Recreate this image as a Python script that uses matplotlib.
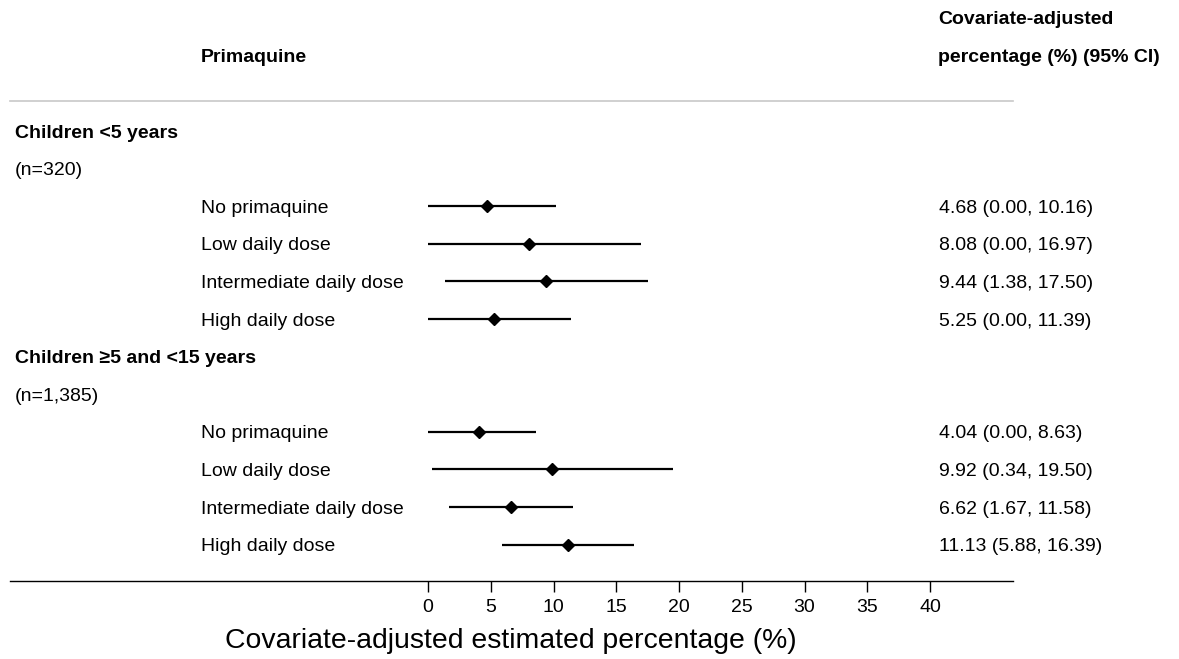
import matplotlib.pyplot as plt
from matplotlib.transforms import blended_transform_factory

plt.rcParams['font.family'] = ['Liberation Sans', 'DejaVu Sans']

# data
groups = ["Children <5 years", "Children \u22655 and <15 years"]
group_n = ["(n=320)", "(n=1,385)"]
doses = ["No primaquine", "Low daily dose", "Intermediate daily dose", "High daily dose"]
est_u5 = [4.68, 8.08, 9.44, 5.25]
lo_u5 = [0.00, 0.00, 1.38, 0.00]
hi_u5 = [10.16, 16.97, 17.50, 11.39]
est_5_15 = [4.04, 9.92, 6.62, 11.13]
lo_5_15 = [0.00, 0.34, 1.67, 5.88]
hi_5_15 = [8.63, 19.50, 11.58, 16.39]
xticks = [0, 5, 10, 15, 20, 25, 30, 35, 40]

W, H = 1179, 659
FS = 14
fig = plt.figure(figsize=(W / 100, H / 100), dpi=100)
ax = fig.add_axes([10 / W, 1 - 581 / H, (1013 - 10) / W, (581 - 101) / H])

# x scale: 0 at px 428, 40 at px 930
ppu = (930 - 428) / 40
ax.set_xlim(-(428 - 10) / ppu, (1013 - 428) / ppu)
# rows: first row at px 131, spacing ~37.6 px
step = 37.6
ax.set_ylim((581 - 131) / step, (101 - 131) / step)

xt_lab = blended_transform_factory(fig.transFigure, ax.transData)
tkw = dict(transform=xt_lab, fontsize=FS, va='center_baseline', ha='left')

row = 0
for g, n, est, lo, hi in [(groups[0], group_n[0], est_u5, lo_u5, hi_u5),
                          (groups[1], group_n[1], est_5_15, lo_5_15, hi_5_15)]:
    ax.text(15 / W, row, g, fontweight='bold', **tkw)
    row += 1
    ax.text(15 / W, row, n, **tkw)
    row += 1
    for d, e, l, h in zip(doses, est, lo, hi):
        ax.plot([l, h], [row, row], color='black', lw=1.6, solid_capstyle='butt')
        ax.plot(e, row, marker='D', color='black', markersize=6)
        ax.text(201 / W, row, d, **tkw)
        ax.text(939 / W, row, f"{e:.2f} ({l:.2f}, {h:.2f})", **tkw)
        row += 1

for s in ['top', 'left', 'right']:
    ax.spines[s].set_visible(False)
ax.spines['bottom'].set_linewidth(1.0)
ax.set_yticks([])
ax.set_xticks(xticks)
ax.tick_params(axis='x', length=8, width=1, labelsize=FS, pad=5)
ax.set_xlabel("Covariate-adjusted estimated percentage (%)", fontsize=20.4)
ax.xaxis.set_label_coords((511 - 10) / (1013 - 10), -(628 - 581) / (581 - 101))

# header
fig.lines.append(plt.Line2D([10 / W, 1013 / W], [1 - 101 / H, 1 - 101 / H],
                            transform=fig.transFigure, color='#c8c8c8', lw=1.2))
fig.text(201 / W, 1 - 56 / H, "Primaquine", fontsize=FS, fontweight='bold',
         va='center_baseline', ha='left')
fig.text(938 / W, 1 - 18 / H, "Covariate-adjusted", fontsize=FS, fontweight='bold',
         va='center_baseline', ha='left')
fig.text(938 / W, 1 - 56 / H, "percentage (%) (95% CI)", fontsize=FS, fontweight='bold',
         va='center_baseline', ha='left')

fig.savefig("out.png", dpi=100)
